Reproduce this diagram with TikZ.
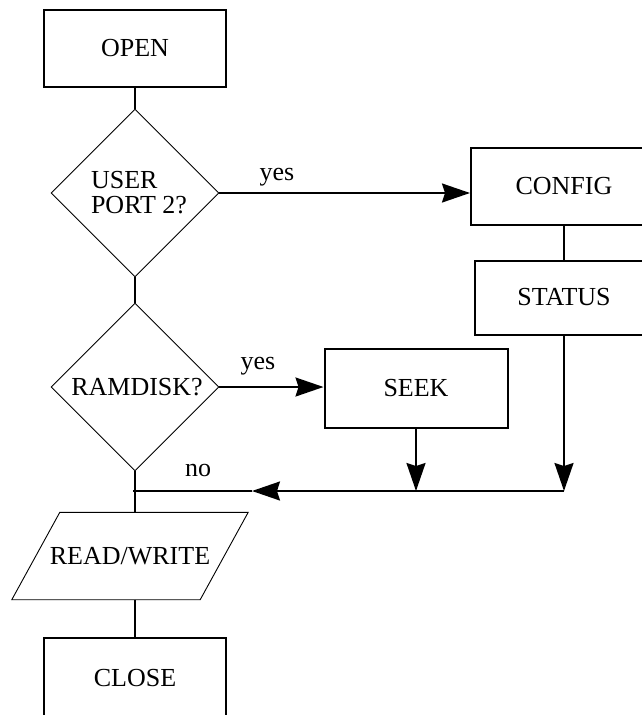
\documentclass[tikz,border=0pt]{standalone}
\usepackage{fontspec}
\setmainfont{Liberation Serif}
\usetikzlibrary{positioning,arrows.meta,shapes.geometric}

\begin{document}
\begin{tikzpicture}[
  x=1pt, y=-1pt,
  font=\fontsize{26}{25}\selectfont,
  box/.style={rectangle, draw=black, line width=2pt,
              minimum width=182pt, minimum height=77pt, text centered},
  decision/.style={diamond, draw=black, line width=0.9pt, inner sep=0pt,
              minimum width=168pt, minimum height=168pt},
  io/.style={rectangle, inner sep=0pt, minimum width=188pt, minimum height=87pt},
  slant/.style={draw=black, line width=0.9pt},
  lbl/.style={inner sep=0pt},
  wire/.style={line width=2pt},
  arr/.style={-{Stealth[length=28pt, width=19pt, inset=3pt]}, line width=2pt}]
  \useasboundingbox (0,0) rectangle (642,715);
  \clip (0,0) rectangle (642,715);
  \node[box] (OPEN) at (135,48) {OPEN};
  \node[decision, align=left] (USER) at (135,193) {\hspace*{8pt}USER\\\hspace*{8pt}PORT 2?};
  \node[decision] (RAM) at (135,387) {\hspace*{4pt}RAMDISK?};
  \node[box, minimum width=186pt] (CONFIG) at (564,186) {CONFIG};
  \node[box, minimum width=178pt, minimum height=74pt, below=34pt of CONFIG] (STATUS) {STATUS};
  \node[box, minimum width=183pt, minimum height=79pt] (SEEK) at (416,388) {SEEK};
  \node[io] (RW) at (130,556) {READ/WRITE};
  \draw[slant] ([xshift=24pt]RW.north west) -- ([xshift=24pt]RW.north east)
    -- ([xshift=-24pt]RW.south east) -- ([xshift=-24pt]RW.south west) -- cycle;
  \node[box, minimum height=80pt] (CLOSE) at (135,678) {CLOSE};
  \node[lbl] at (277,177) {yes};
  \node[lbl] at (258,366) {yes};
  \node[lbl] at (198,470) {no};
  \coordinate (jy) at (0,491);
  \coordinate (jm) at (252,491);
  \draw[wire] (OPEN) -- (USER);
  \draw[wire] (USER) -- (RAM);
  \draw[arr] (USER.east) -- (USER.east -| CONFIG.west);
  \draw[wire] (CONFIG) -- (STATUS);
  \draw[arr] (RAM.east) -- (RAM.east -| SEEK.west);
  \draw[wire] (RAM.south) -- (RAM.south |- RW.north);
  \draw[wire] (RW.south -| RAM.south) -- (CLOSE.north);
  \draw[arr] (STATUS.south) -- (STATUS.south |- jy);
  \draw[arr] (SEEK.south) -- (SEEK.south |- jy);
  \draw[arr] (STATUS.south |- jy) -- (jm);
  \draw[wire] (jm) -- ([xshift=-2pt]RAM.south |- jy);
\end{tikzpicture}
\end{document}
